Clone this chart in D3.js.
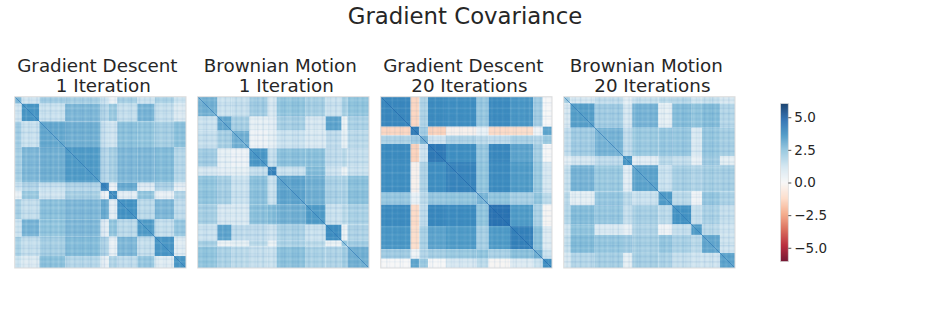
<!DOCTYPE html>
<meta charset="utf-8">

<style>

body { margin: 0; background: #fff; }
text { font-family: "DejaVu Sans", sans-serif; fill: #262626; }
.tick line { stroke: #262626; stroke-width: 0.8px; }

</style>

<body>

<!-- load the d3.js library -->
<script src="https://d3js.org/d3.v7.min.js"></script>

<script>

	// titles of the four panels
	var titles = [
		["Gradient Descent", "1 Iteration"],
		["Brownian Motion", "1 Iteration"],
		["Gradient Descent", "20 Iterations"],
		["Brownian Motion", "20 Iterations"]
	];

	// block edges of every heatmap, in percent of the matrix
	var edgesGd1 = [0, 4.1, 14.4, 29.4, 50.2, 55, 59.9, 71.6, 81.7, 93, 100];
	var edgesBm1 = [0, 11.5, 19.8, 30.2, 40.9, 46.1, 63, 74.7, 84, 87.4, 100];
	var edgesGd20 = [0, 17.5, 22.6, 27.6, 38.1, 56, 63, 75.5, 89.1, 94.6, 100];
	var edgesBm20 = [0, 3.9, 18.1, 34.6, 40, 55.3, 63.4, 74.5, 80.7, 91.2, 100];

	// covariance of each pair of blocks
	var valuesGd1 = [
		[2.7, 1.2, 2.1, 2.0, 1.3, 0.4, 2.0, 1.3, 1.9, 1.3],
		[1.2, 3.5, 1.3, 2.7, 1.7, 2.2, 1.4, 2.8, 1.4, 0.8],
		[2.1, 1.3, 3.1, 2.9, 1.3, 1.2, 2.5, 2.4, 2.0, 2.5],
		[2.0, 2.7, 2.9, 3.4, 1.7, 2.0, 2.7, 2.7, 2.6, 1.7],
		[1.3, 1.7, 1.3, 1.7, 4.0, 0.2, 3.0, 0.6, 1.8, 0.4],
		[0.4, 2.2, 1.2, 2.0, 0.2, 3.8, 0.6, 2.4, 0.4, 1.8],
		[2.0, 1.4, 2.5, 2.7, 3.0, 0.6, 3.6, 1.6, 2.7, 1.5],
		[1.3, 2.8, 2.4, 2.7, 0.6, 2.4, 1.6, 3.4, 1.4, 2.3],
		[1.9, 1.4, 2.0, 2.6, 1.8, 0.4, 2.7, 1.4, 3.5, 0.7],
		[1.3, 0.8, 2.5, 1.7, 0.4, 1.8, 1.5, 2.3, 0.7, 3.5]
	];
	var valuesBm1 = [
		[2.9, 1.3, 1.4, 2.1, 1.0, 2.4, 2.0, 1.3, 2.0, 2.4],
		[1.3, 3.1, 2.0, 0.5, 0.6, 2.0, 1.0, 3.2, 0.3, 1.9],
		[1.4, 2.0, 2.9, 0.25, 0.5, 1.3, 0.9, 1.5, 0.5, 1.6],
		[2.1, 0.5, 0.25, 3.5, 1.4, 2.5, 2.5, 1.5, 1.6, 1.4],
		[1.0, 0.6, 0.5, 1.4, 4.0, 1.3, 2.6, 1.2, 0.3, 1.3],
		[2.4, 2.0, 1.3, 2.5, 1.3, 3.2, 2.9, 1.9, 1.9, 2.5],
		[2.0, 1.0, 0.9, 2.5, 2.6, 2.9, 3.4, 1.3, 1.6, 1.9],
		[1.3, 3.2, 1.5, 1.5, 1.2, 1.9, 1.3, 3.7, 0.3, 1.8],
		[2.0, 0.3, 0.5, 1.6, 0.3, 1.9, 1.6, 0.3, 2.3, 2.1],
		[2.4, 1.9, 1.6, 1.4, 1.3, 2.5, 1.9, 1.8, 2.1, 2.9]
	];
	var valuesGd20 = [
		[3.9, -1.3, 1.8, 3.8, 3.7, 2.3, 3.8, 3.5, 2.1, 0.0],
		[-1.3, 4.2, 2.1, -1.4, -0.3, 0.4, -1.2, -1.1, 0.2, 3.2],
		[1.8, 2.1, 2.8, 1.2, 1.8, 1.6, 1.5, 1.9, 1.7, 2.2],
		[3.8, -1.4, 1.2, 4.3, 3.7, 2.3, 3.9, 3.2, 2.0, 0.0],
		[3.7, -0.3, 1.8, 3.7, 4.0, 2.4, 3.8, 3.4, 2.2, 1.0],
		[2.3, 0.4, 1.6, 2.3, 2.4, 2.8, 2.4, 2.0, 2.4, 1.6],
		[3.8, -1.2, 1.5, 3.9, 3.8, 2.4, 4.5, 3.4, 1.9, -0.1],
		[3.5, -1.1, 1.9, 3.2, 3.4, 2.0, 3.4, 4.1, 2.5, 0.8],
		[2.1, 0.2, 1.7, 2.0, 2.2, 2.4, 1.9, 2.5, 2.9, 1.3],
		[0.0, 3.2, 2.2, 0.0, 1.0, 1.6, -0.1, 0.8, 1.3, 3.7]
	];
	var valuesBm20 = [
		[2.0, 1.0, 1.5, 0.6, 1.4, 1.6, 1.7, 1.2, 1.4, 1.0],
		[1.0, 3.3, 2.1, 1.0, 2.8, 0.5, 2.6, 2.4, 2.6, 1.7],
		[1.5, 2.1, 2.8, 1.5, 2.2, 2.3, 2.3, 0.9, 2.3, 2.0],
		[0.6, 1.0, 1.5, 3.5, 0.6, 1.6, 1.4, 0.4, 2.1, 0.5],
		[1.4, 2.8, 2.2, 0.6, 3.2, 1.3, 2.0, 1.8, 2.0, 2.0],
		[1.6, 0.5, 2.3, 1.6, 1.3, 3.4, 1.6, 0.2, 2.3, 1.9],
		[1.7, 2.6, 2.3, 1.4, 2.0, 1.6, 3.6, 1.4, 1.9, 1.4],
		[1.2, 2.4, 0.9, 0.4, 1.8, 0.2, 1.4, 3.4, 1.6, 1.2],
		[1.4, 2.6, 2.3, 2.1, 2.0, 2.3, 1.9, 1.6, 3.1, 1.2],
		[1.0, 1.7, 2.0, 0.5, 2.0, 1.9, 1.4, 1.2, 1.2, 3.2]
	];

	// thin streaks along rows and columns: above zero darker, below zero lighter
	var streaksGd1 = [
		-.10, .06, -.04, .08, -.12, .10, .04, -.08, .12, -.14, .06, .10, -.06, .14, -.10, .04,
		-.16, .08, -.04, .12, .06, -.12, .10, -.06, .04, .12, -.10, .06, .14, -.08, .04, -.12,
		.10, .16, -.10, .06, -.14, .08, .12, -.06, .10, -.12, .04, .14, -.08, .06, .10, -.14,
		.08, -.04, .12, -.10, .14, .06, -.12, .04, .10, -.08, .12, -.06, .08, -.10, .06, .04
	];
	var streaksBm1 = [
		.08, -.10, .06, .12, -.06, .04, -.12, .10, .06, -.14, .12, -.04, .08, -.10, .14, -.06,
		.10, -.16, .06, .12, -.08, .04, .10, -.12, .14, -.06, .08, -.14, .10, .04, -.10, .06,
		.12, -.08, -.12, .10, .04, .14, -.10, .06, -.06, .12, -.14, .08, .04, -.08, .12, -.12,
		.06, .10, -.06, .14, -.10, .04, .08, -.12, .10, -.04, .06, .12, -.10, .08, -.06, .04
	];
	var streaksGd20 = [
		.06, -.06, .10, .04, -.10, .08, -.04, .12, .06, -.08, .04, .10, -.06, .08, -.12, .04,
		.10, -.04, .06, .12, -.10, .04, .08, -.06, .10, -.08, .06, .04, -.12, .10, .06, -.04,
		.08, -.10, .12, .04, -.06, .10, -.12, .06, .04, -.08, .10, -.04, .12, -.06, .08, .04,
		-.10, .06, .10, -.08, .04, -.06, .12, -.10, .04, .08, -.06, .10, -.04, .06, -.08, .04
	];
	var streaksBm20 = [
		-.06, .08, -.12, .06, .10, -.08, .14, -.04, .06, -.14, .10, .04, -.10, .12, -.06, .08,
		-.12, .04, .10, -.08, .14, -.04, .06, -.12, .10, .06, -.14, .08, .12, -.06, .04, -.10,
		.12, -.04, .08, -.12, .06, .10, -.14, .04, .12, -.08, .06, -.10, .14, .04, -.06, .10,
		-.12, .08, .04, -.10, .12, -.06, .08, .14, -.10, .04, -.08, .10, -.06, .12, -.04, .06
	];

	// value along the main diagonal of each panel
	var diagonals = [4.4, 4.4, 4.9, 4.4];

	// colour bar
	var barExtent = [-6.05, 6.05];
	var barTicks = [-5, -2.5, 0, 2.5, 5];
	var barColors = ["#67001f", "#b2182b", "#d6604d", "#f4a582", "#fddbc7", "#f7f7f7",
		"#d1e5f0", "#92c5de", "#4393c3", "#2166ac", "#053061"];

	var allEdges = [edgesGd1, edgesBm1, edgesGd20, edgesBm20];
	var allValues = [valuesGd1, valuesBm1, valuesGd20, valuesBm20];
	var allStreaks = [streaksGd1, streaksBm1, streaksGd20, streaksBm20];

	// set the dimensions of the figure and the panels
	var width = 930, height = 328;
	var left = 14.7, top_ = 96.7, side = 171.3, step = 183;
	var barLeft = 780.5, barTop = 103.5, barWidth = 7.8, barHeight = 158;

	var svg = d3.select("body").append("svg")
		.attr("width", width)
		.attr("height", height)
		.style("display", "block");

	var defs = svg.append("defs");
	defs.append("filter")
		.attr("id", "soft")
		.attr("x", "-5%").attr("y", "-5%")
		.attr("width", "110%").attr("height", "110%")
		.append("feGaussianBlur")
		.attr("stdDeviation", 0.6);
	defs.append("clipPath")
		.attr("id", "square")
		.append("rect")
		.attr("width", side)
		.attr("height", side);

	// colours and the matrix scale shared by all panels
	var color = d3.scaleLinear()
		.domain(d3.range(barColors.length).map(function(i) {
			return barExtent[0] + i * (barExtent[1] - barExtent[0]) / (barColors.length - 1);
		}))
		.range(barColors);
	var pos = d3.scaleLinear().domain([0, 100]).range([0, side]);

	svg.append("text")
		.attr("x", 465)
		.attr("y", 24)
		.attr("text-anchor", "middle")
		.style("font-size", "22.8px")
		.text("Gradient Covariance");

	titles.forEach(function(title, p) {
		var g = svg.append("g")
			.attr("transform", "translate(" + (left + p * step) + "," + top_ + ")");

		g.selectAll(".line1")
			.data(title)
			.enter().append("text")
			.attr("x", function(d, i) { return side / 2 + (i == 0 ? -3 : 3); })
			.attr("y", function(d, i) { return i == 0 ? -25 : -4.5; })
			.attr("text-anchor", "middle")
			.style("font-size", "18.3px")
			.text(function(d) { return d; });

		var edges = allEdges[p];
		var cells = [];
		allValues[p].forEach(function(row, i) {
			row.forEach(function(v, j) {
				cells.push({x0: edges[j], x1: edges[j + 1], y0: edges[i], y1: edges[i + 1], v: v});
			});
		});

		var inner = g.append("g")
			.attr("clip-path", "url(#square)")
			.append("g")
			.attr("filter", "url(#soft)");

		inner.selectAll(".cell")
			.data(cells)
			.enter().append("rect")
			.attr("class", "cell")
			.attr("x", function(d) { return pos(d.x0); })
			.attr("y", function(d) { return pos(d.y0); })
			.attr("width", function(d) { return pos(d.x1) - pos(d.x0); })
			.attr("height", function(d) { return pos(d.y1) - pos(d.y0); })
			.attr("fill", function(d) { return color(d.v); });

		// streaks, the same along rows and columns
		var streaks = allStreaks[p];
		var band = d3.scaleBand().domain(d3.range(streaks.length)).range([0, side]).paddingInner(0.45);
		var streakFill = function(d) { return d > 0 ? color(4.6) : "#fff"; };
		var streakOpacity = function(d) { return Math.abs(d) * 0.75; };

		inner.selectAll(".col")
			.data(streaks)
			.enter().append("rect")
			.attr("class", "col")
			.attr("x", function(d, i) { return band(i); })
			.attr("width", band.bandwidth())
			.attr("height", side)
			.attr("fill", streakFill)
			.attr("fill-opacity", streakOpacity);

		inner.selectAll(".row")
			.data(streaks)
			.enter().append("rect")
			.attr("class", "row")
			.attr("y", function(d, i) { return band(i); })
			.attr("height", band.bandwidth())
			.attr("width", side)
			.attr("fill", streakFill)
			.attr("fill-opacity", streakOpacity);

		// main diagonal
		inner.append("line")
			.attr("x1", pos(0)).attr("y1", pos(0))
			.attr("x2", pos(100)).attr("y2", pos(100))
			.attr("stroke", color(diagonals[p]))
			.attr("stroke-width", 1)
			.attr("stroke-opacity", 0.6);

		g.append("rect")
			.attr("width", side)
			.attr("height", side)
			.attr("fill", "none")
			.attr("stroke", "#dcdcdc")
			.attr("stroke-width", 1);
	});

	// colour bar, one strip per pixel
	var barScale = d3.scaleLinear().domain(barExtent).range([barTop + barHeight, barTop]);
	var bar = svg.append("g");

	bar.selectAll("rect")
		.data(d3.range(barTop, barTop + barHeight, 1))
		.enter().append("rect")
		.attr("x", barLeft)
		.attr("y", function(d) { return d; })
		.attr("width", barWidth)
		.attr("height", 1.3)
		.attr("fill", function(d) { return color(barScale.invert(d + 0.5)); });

	bar.append("rect")
		.attr("x", barLeft)
		.attr("y", barTop)
		.attr("width", barWidth)
		.attr("height", barHeight)
		.attr("fill", "none")
		.attr("stroke", "#dcdcdc")
		.attr("stroke-width", 0.8);

	var axis = svg.append("g")
		.attr("transform", "translate(" + (barLeft + barWidth) + ",0)")
		.call(d3.axisRight(barScale)
			.tickValues(barTicks)
			.tickSize(3)
			.tickPadding(3)
			.tickFormat(function(d) { return d3.format(".1f")(d).replace("-", "\u2212"); }));

	axis.select(".domain").remove();
	axis.selectAll("text")
		.style("font-family", "'DejaVu Sans', sans-serif")
		.style("font-size", "13.5px");

</script>
</body>
